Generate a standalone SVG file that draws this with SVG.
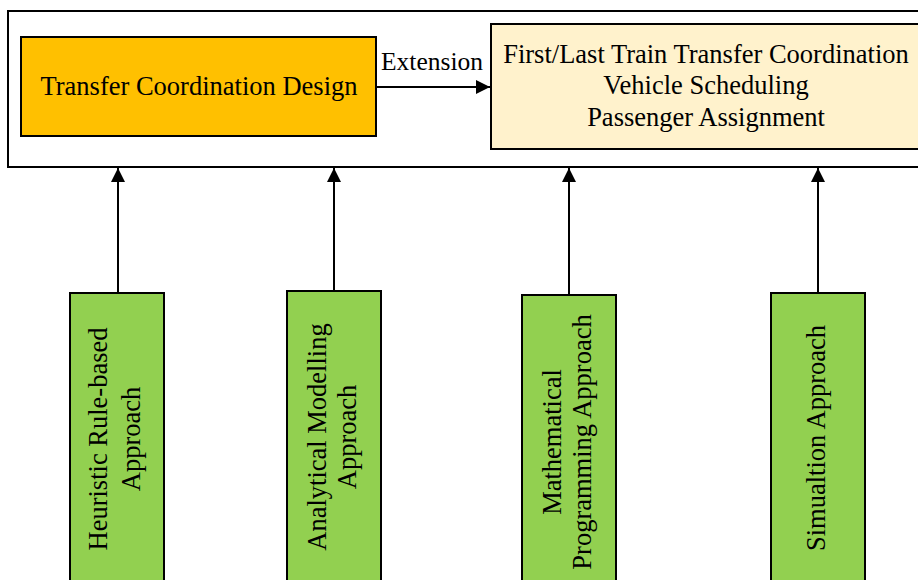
<svg xmlns="http://www.w3.org/2000/svg" width="918" height="580" viewBox="0 0 918 580">
<style>
text{font-family:"Liberation Serif","Times New Roman",serif;font-size:26.5px;fill:#000;text-anchor:middle}
.box{stroke:#000;stroke-width:2}
.green{fill:#92D050}
.conn{stroke:#000;stroke-width:2;fill:none}
</style>
<defs>
<marker id="ah" viewBox="0 0 10 10" refX="10" refY="5" markerWidth="15" markerHeight="14" markerUnits="userSpaceOnUse" orient="auto">
<path d="M0,0 L10,5 L0,10 Z" fill="#000"/>
</marker>
</defs>
<rect width="918" height="580" fill="#fff"/>
<g id="container">
<rect x="8" y="11" width="930" height="156" fill="#fff" class="box"/>
</g>
<g id="design">
<rect x="21" y="37" width="355" height="99" fill="#FFC000" class="box"/>
<text x="199" y="95">Transfer Coordination Design</text>
</g>
<g id="extension-target">
<rect x="491" y="24" width="440" height="125" fill="#FFF2CC" class="box"/>
<text x="706" y="63">First/Last Train Transfer Coordination</text>
<text x="706" y="94">Vehicle Scheduling</text>
<text x="706" y="126">Passenger Assignment</text>
</g>
<g id="heuristic">
<rect x="70" y="293" width="94" height="300" class="box green"/>
<text transform="translate(107,439) rotate(-90)">Heuristic Rule-based</text>
<text transform="translate(140,439) rotate(-90)">Approach</text>
</g>
<g id="analytical">
<rect x="287" y="291" width="94" height="300" class="box green"/>
<text transform="translate(326,437) rotate(-90)">Analytical Modelling</text>
<text transform="translate(356,437) rotate(-90)">Approach</text>
</g>
<g id="mathematical">
<rect x="522" y="295" width="94" height="300" class="box green"/>
<text transform="translate(561,442) rotate(-90)">Mathematical</text>
<text transform="translate(591,442) rotate(-90)">Programming Approach</text>
</g>
<g id="simulation">
<rect x="771" y="293" width="94" height="300" class="box green"/>
<text transform="translate(825,438) rotate(-90)">Simualtion Approach</text>
</g>
<g id="connectors">
<line x1="377" y1="87" x2="490" y2="87" class="conn" marker-end="url(#ah)"/>
<text x="432" y="70" style="font-size:25.5px">Extension</text>
<line x1="118" y1="292" x2="118" y2="168" class="conn" marker-end="url(#ah)"/>
<line x1="334" y1="290" x2="334" y2="168" class="conn" marker-end="url(#ah)"/>
<line x1="569" y1="294" x2="569" y2="168" class="conn" marker-end="url(#ah)"/>
<line x1="818" y1="292" x2="818" y2="168" class="conn" marker-end="url(#ah)"/>
</g>
</svg>
